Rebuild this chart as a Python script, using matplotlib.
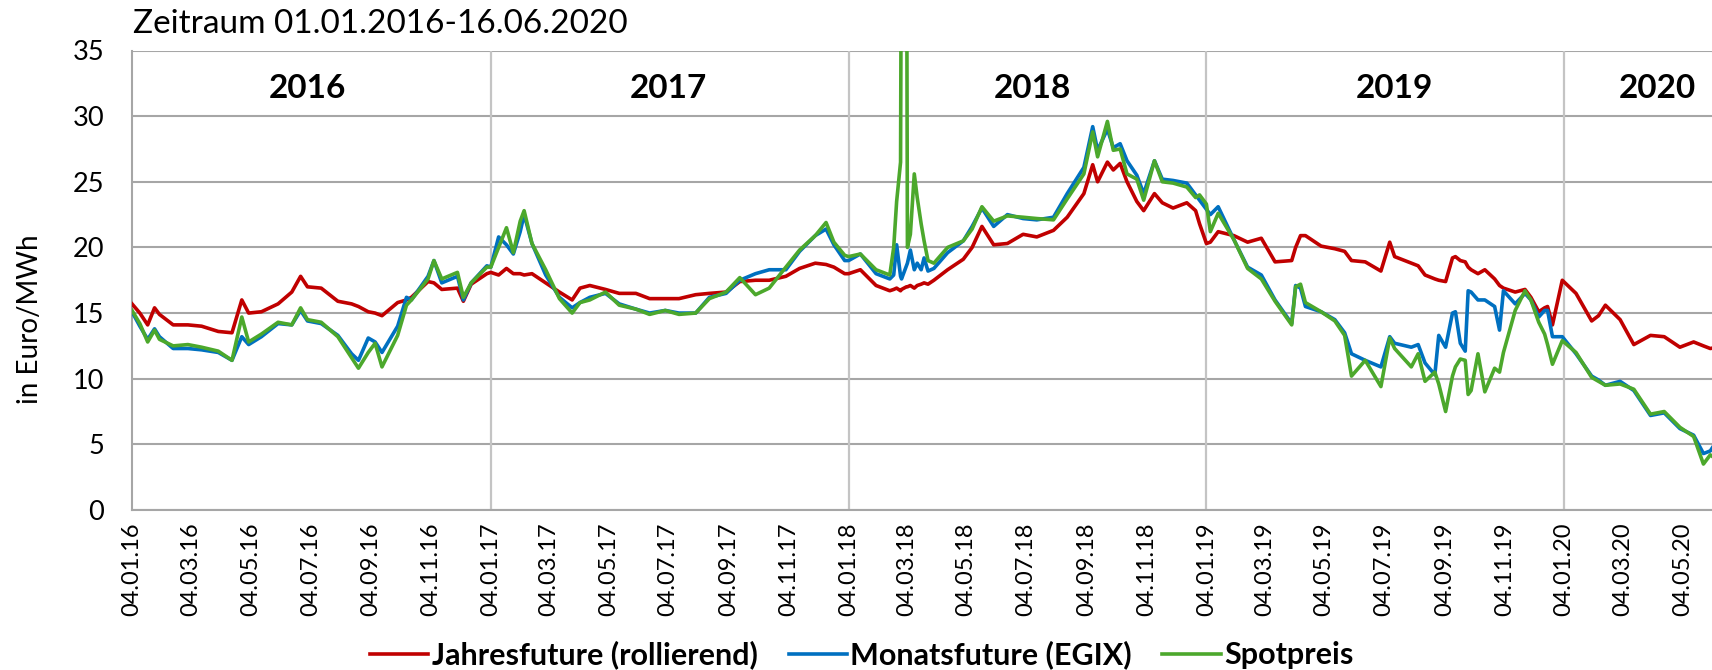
import matplotlib
matplotlib.use('Agg')
import matplotlib.pyplot as plt
import matplotlib.dates as mdates
import pandas as pd

plt.rcParams['font.family'] = ['Lato', 'DejaVu Sans']

# sample dates (MM-DD) per year
days_2016 = ['01-04', '01-12', '01-20', '01-27', '02-01', '02-15', '03-01', '03-15', '04-01', '04-15',
             '04-25', '05-02', '05-15', '06-01', '06-15', '06-24', '07-01', '07-15', '08-01', '08-15',
             '08-22', '09-01', '09-08', '09-15', '10-01', '10-10', '10-15', '11-01', '11-07', '11-15',
             '12-01', '12-07', '12-15', '12-31']
days_2017 = ['01-04', '01-12', '01-20', '01-27', '02-03', '02-07', '02-15', '03-01', '03-15', '03-28',
             '04-05', '04-15', '05-01', '05-15', '06-01', '06-15', '07-01', '07-15', '08-01', '08-15',
             '09-01', '09-15', '10-01', '10-15', '11-01', '11-15', '12-01', '12-12', '12-20', '12-31']
days_2018 = ['01-04', '01-16', '02-01', '02-15', '02-19', '02-22', '02-26', '02-27', '03-04', '03-05',
             '03-08', '03-12', '03-15', '03-19', '03-22', '03-26', '04-01', '04-15', '05-01', '05-10',
             '05-20', '06-01', '06-15', '07-01', '07-15', '08-01', '08-15', '09-01', '09-10', '09-15',
             '09-25', '10-01', '10-08', '10-15', '10-25', '11-01', '11-12', '11-20', '12-01', '12-15',
             '12-24', '12-28']
days_2019 = ['01-04', '01-08', '01-16', '02-01', '02-15', '03-01', '03-15', '04-01', '04-05', '04-10',
             '04-15', '05-01', '05-15', '05-25', '06-01', '06-15', '07-01', '07-10', '07-15', '08-01',
             '08-08', '08-15', '08-25', '08-29', '09-05', '09-12', '09-15', '09-20', '09-25', '09-28',
             '10-01', '10-08', '10-15', '10-25', '10-30', '11-03', '11-15', '11-25', '12-01', '12-09',
             '12-15', '12-18', '12-23']
days_2020 = ['01-02', '01-16', '02-01', '02-08', '02-15', '03-01', '03-15', '04-01', '04-15', '05-01',
             '05-15', '05-25', '06-01', '06-08', '06-16']

# Euro/MWh
jahresfuture = [
    15.7, 15.0, 14.1, 15.4, 14.9, 14.1, 14.1, 14.0, 13.6, 13.5, 16.0, 15.0, 15.1, 15.7, 16.6, 17.8, 17.0,
    16.9, 15.9, 15.7, 15.5, 15.1, 15.0, 14.8, 15.8, 16.0, 16.2, 17.4, 17.3, 16.8, 16.9, 15.9, 17.2, 18.0,
    18.1, 17.9, 18.4, 18.0, 18.0, 17.9, 18.0, 17.3, 16.6, 16.0, 16.9, 17.1, 16.8, 16.5, 16.5, 16.1, 16.1,
    16.1, 16.4, 16.5, 16.6, 17.4, 17.5, 17.5, 17.8, 18.4, 18.8, 18.7, 18.5, 18.0,
    18.0, 18.3, 17.1, 16.7, 16.8, 16.9, 16.7, 16.8, 17.0, 17.0, 17.1, 16.9, 17.1, 17.2, 17.3, 17.2, 17.5,
    18.3, 19.1, 20.0, 21.6, 20.2, 20.3, 21.0, 20.8, 21.3, 22.3, 24.1, 26.3, 25.0, 26.5, 25.9, 26.4, 25.0,
    23.5, 22.8, 24.1, 23.4, 23.0, 23.4, 22.8, 21.8,
    20.3, 20.4, 21.2, 20.9, 20.4, 20.7, 18.9, 19.0, 20.0, 20.9, 20.9, 20.1, 19.9, 19.7, 19.0, 18.9, 18.2,
    20.4, 19.3, 18.8, 18.6, 17.9, 17.6, 17.5, 17.4, 19.2, 19.3, 19.0, 18.9, 18.5, 18.3, 18.0, 18.3, 17.6,
    17.1, 16.9, 16.6, 16.8, 16.2, 15.1, 15.4, 15.5, 14.1,
    17.5, 16.5, 14.4, 14.8, 15.6, 14.5, 12.6, 13.3, 13.2, 12.4, 12.8, 12.5, 12.3, 12.4, 12.3]
monatsfuture = [
    15.1, 14.0, 13.0, 13.8, 13.2, 12.3, 12.3, 12.2, 12.0, 11.4, 13.2, 12.6, 13.2, 14.2, 14.1, 15.2, 14.4,
    14.2, 13.3, 11.9, 11.4, 13.1, 12.8, 12.0, 14.0, 16.2, 16.0, 17.8, 19.0, 17.3, 17.8, 16.0, 17.3, 18.6,
    18.5, 20.8, 20.2, 19.5, 21.2, 22.5, 20.3, 17.9, 16.2, 15.4, 15.8, 16.2, 16.5, 15.7, 15.3, 15.0, 15.2,
    15.0, 15.0, 16.2, 16.5, 17.5, 18.0, 18.3, 18.3, 19.7, 20.9, 21.4, 20.2, 19.0,
    19.0, 19.5, 18.0, 17.6, 17.9, 20.2, 17.8, 17.6, 18.6, 18.8, 19.8, 18.3, 18.8, 18.3, 19.2, 18.2, 18.4,
    19.6, 20.5, 21.6, 23.0, 21.6, 22.5, 22.2, 22.1, 22.3, 24.1, 26.1, 29.2, 27.4, 29.0, 27.6, 27.9, 26.6,
    25.5, 24.1, 26.6, 25.2, 25.1, 24.9, 24.0, 23.6,
    22.9, 22.5, 23.1, 20.6, 18.5, 17.9, 16.0, 14.2, 17.1, 16.9, 15.5, 15.1, 14.5, 13.5, 11.9, 11.4, 10.9,
    13.2, 12.7, 12.4, 12.6, 11.2, 10.3, 13.3, 12.4, 15.0, 15.1, 12.7, 12.1, 16.7, 16.6, 16.0, 16.0, 15.5,
    13.7, 16.7, 15.7, 16.5, 16.0, 14.7, 15.2, 15.2, 13.2,
    13.2, 11.9, 10.2, 9.9, 9.5, 9.8, 9.1, 7.2, 7.4, 6.2, 5.7, 4.3, 4.5, 5.3, 5.6]
spotpreis = [
    15.2, 14.2, 12.8, 13.7, 13.0, 12.5, 12.6, 12.4, 12.1, 11.4, 14.7, 12.8, 13.4, 14.3, 14.1, 15.4, 14.5,
    14.3, 13.2, 11.6, 10.8, 12.0, 12.7, 10.9, 13.3, 15.6, 16.0, 17.6, 19.0, 17.6, 18.1, 16.2, 17.3, 18.5,
    18.5, 20.0, 21.5, 19.6, 22.0, 22.8, 20.3, 18.3, 16.1, 15.0, 15.8, 16.0, 16.6, 15.6, 15.3, 14.9, 15.2,
    14.9, 15.0, 16.1, 16.6, 17.7, 16.4, 16.9, 18.5, 19.8, 20.9, 21.9, 20.4, 19.4,
    19.3, 19.5, 18.3, 17.9, 20.0, 23.5, 26.5, 50.0, 50.0, 20.0, 21.0, 25.6, 23.8, 21.8, 20.5, 19.0, 18.8,
    20.0, 20.5, 21.4, 23.1, 22.0, 22.4, 22.3, 22.2, 22.1, 23.7, 25.6, 28.8, 26.9, 29.6, 27.4, 27.5, 25.6,
    25.2, 23.6, 26.6, 25.0, 24.9, 24.6, 23.8, 24.0,
    23.3, 21.2, 22.6, 20.6, 18.4, 17.6, 15.9, 14.1, 17.0, 17.2, 15.8, 15.1, 14.4, 13.3, 10.2, 11.4, 9.4,
    13.1, 12.3, 10.9, 11.9, 9.8, 10.5, 9.6, 7.5, 10.2, 10.9, 11.5, 11.4, 8.8, 9.1, 11.9, 9.0, 10.8,
    10.5, 12.0, 15.2, 16.7, 16.0, 14.3, 13.4, 12.6, 11.1,
    12.9, 12.0, 10.1, 9.8, 9.5, 9.6, 9.2, 7.3, 7.5, 6.3, 5.6, 3.5, 4.2, 3.8, 4.0]

years = ['2016', '2017', '2018', '2019', '2020']
year_label_dates = ['2016-07-01', '2017-07-04', '2018-07-10', '2019-07-15', '2020-04-08']
year_lines = ['2017-01-04', '2018-01-04', '2019-01-04', '2020-01-04']

dates = pd.to_datetime(
    ['2016-' + d for d in days_2016] + ['2017-' + d for d in days_2017] +
    ['2018-' + d for d in days_2018] + ['2019-' + d for d in days_2019] +
    ['2020-' + d for d in days_2020])

RED = '#c00000'
BLUE = '#0070c0'
GREEN = '#4ca82c'
GRID = '#a6a6a6'

fig = plt.figure(figsize=(17.12, 6.70), dpi=100)
ax = fig.add_axes([132 / 1712, 160 / 670, 1593 / 1712, 459.5 / 670])

ax.plot(dates, jahresfuture, color=RED, lw=2.6, label='Jahresfuture (rollierend)', zorder=3)
ax.plot(dates, monatsfuture, color=BLUE, lw=2.6, label='Monatsfuture (EGIX)', zorder=4)
ax.plot(dates, spotpreis, color=GREEN, lw=2.6, label='Spotpreis', zorder=5)

ax.set_ylim(0, 35)
ax.set_yticks(range(0, 36, 5))
ax.set_xlim(pd.Timestamp('2016-01-04'), pd.Timestamp('2020-06-16'))
ticks = [pd.Timestamp(f'{y}-{m:02d}-04') for y in range(2016, 2021) for m in (1, 3, 5, 7, 9, 11)]
ticks = [t for t in ticks if t <= pd.Timestamp('2020-05-04')]
ax.set_xticks(ticks)
ax.xaxis.set_major_formatter(mdates.DateFormatter('%d.%m.%y'))
plt.setp(ax.get_xticklabels(), rotation=90, ha='center', va='top')

ax.grid(axis='y', color=GRID, lw=1.5)
ax.set_axisbelow(True)
for d in year_lines:
    ax.axvline(pd.Timestamp(d), color='#c4c4c4', lw=1.6, zorder=1)

for s in ('top', 'right'):
    ax.spines[s].set_visible(False)
for s in ('left', 'bottom'):
    ax.spines[s].set_color(GRID)
    ax.spines[s].set_linewidth(1.5)
ax.tick_params(axis='y', length=0, pad=20, labelsize=19.5)
ax.tick_params(axis='x', length=0, pad=9, labelsize=17)

for y, d in zip(years, year_label_dates):
    ax.text(pd.Timestamp(d), 32.1, y, ha='center', va='center', fontsize=24, fontweight='bold')

fig.text(133 / 1712, 1 - 24 / 670, 'Zeitraum 01.01.2016-16.06.2020', fontsize=24, ha='left', va='center')
fig.text(30 / 1712, 1 - 319 / 670, 'in Euro/MWh', fontsize=20, rotation=90, ha='center', va='center')

fig.legend(loc='center', bbox_to_anchor=(862 / 1712, 1 - 655 / 670), ncol=3, frameon=False,
           prop={'weight': 'bold', 'size': 22}, handlelength=1.9, handletextpad=0.12, columnspacing=1.0)

fig.savefig('out.png', dpi=100)
